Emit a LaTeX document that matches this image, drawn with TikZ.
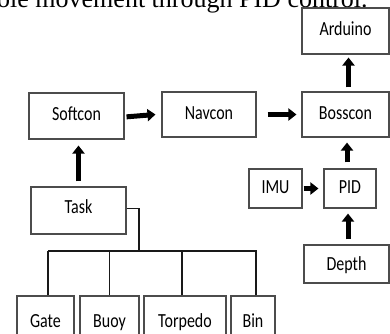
\documentclass[tikz,border=0pt]{standalone}
\usepackage{fontspec}
\setmainfont{Carlito}[FakeStretch=0.8]
\newfontfamily\capfont{Liberation Serif}
\usetikzlibrary{arrows.meta}
\tikzset{
  box/.style={draw=black!70, line width=1.1pt, fill=white, inner sep=0pt,
    text height=13pt, text depth=3.6pt,
    font=\fontsize{20}{24}\selectfont},
  bigarrow/.style={line width=5pt, -{Triangle[width=12pt,length=8pt]}},
  wire/.style={line width=1.6pt, black!90}
}
\begin{document}
\begin{tikzpicture}[x=1pt,y=-1pt]
\useasboundingbox (0,0) rectangle (390,333);
\clip (0,0) rectangle (390,333);
\node[anchor=base west, inner sep=0pt, font=\capfont\fontsize{26}{30}\selectfont] (caption) at (-3,7) {ole movement through PID control.};
% boxes
\node[box, minimum width=87pt, minimum height=46pt] (arduino) at (345.5,31) {Arduino};
\node[box, minimum width=95pt, minimum height=46pt] (softcon) at (76.5,116) {Softcon};
\node[box, minimum width=94pt, minimum height=45pt] (navcon) at (209,114.5) {Navcon};
\node[box, minimum width=87pt, minimum height=45pt] (bosscon) at (345.5,114.5) {Bosscon};
\node[box, minimum width=95pt, minimum height=47pt, text depth=7.6pt] (task) at (78.5,210.5) {Task};
\node[box, minimum width=53pt, minimum height=39pt] (imu) at (275.5,188.5) {IMU};
\node[box, minimum width=52pt, minimum height=39pt] (pid) at (350,188.5) {PID};
\node[box, minimum width=85pt, minimum height=38pt, text height=16.3pt] (depth) at (346.5,264) {Depth};
\node[box, minimum width=57pt, minimum height=54pt] (gate) at (45.5,323) {Gate};
\node[box, minimum width=59pt, minimum height=54pt] (buoy) at (109.5,323) {Buoy};
\node[box, minimum width=82pt, minimum height=54pt] (torpedo) at (185,323) {Torpedo};
\node[box, minimum width=44pt, minimum height=54pt] (bin) at (253,323) {Bin};
% tree wiring
\coordinate (j) at (139,251);
\draw[wire] ([yshift=2pt]task.east) -| (j);
\draw[wire] ([xshift=2.5pt]gate.north |- j) -- ([xshift=3.5pt]bin.north |- j);
\draw[wire] ([xshift=2.5pt]gate.north) -- ([xshift=2.5pt]gate.north |- j);
\draw[wire] (buoy.north) -- (buoy.north |- j);
\draw[wire] ([xshift=-3pt]torpedo.north) -- ([xshift=-3pt]torpedo.north |- j);
\draw[wire] ([xshift=3pt]bin.north) -- ([xshift=3pt]bin.north |- j);
% arrows
\draw[bigarrow, shorten <=2pt, shorten >=6pt] ([yshift=-1pt]softcon.east) -- ([yshift=0.5pt]navcon.west);
\draw[bigarrow, shorten <=11pt, shorten >=5pt] (navcon.east) -- (bosscon.west);
\draw[bigarrow, shorten <=4pt, shorten >=3pt] ([xshift=3pt]bosscon.north) -- ([xshift=3pt]arduino.south);
\draw[bigarrow, shorten <=5pt, shorten >=6pt] (task.north) -- (task.north |- softcon.south);
\draw[bigarrow, shorten <=1pt, shorten >=5pt] (imu.east) -- (pid.west);
\draw[bigarrow, shorten <=6pt, shorten >=5pt] ([xshift=-3pt]pid.north) -- ([xshift=-3pt]pid.north |- bosscon.south);
\draw[bigarrow, shorten <=5pt, shorten >=5pt] ([xshift=1.5pt]depth.north) -- ([xshift=1.5pt]depth.north |- pid.south);
\end{tikzpicture}
\end{document}
